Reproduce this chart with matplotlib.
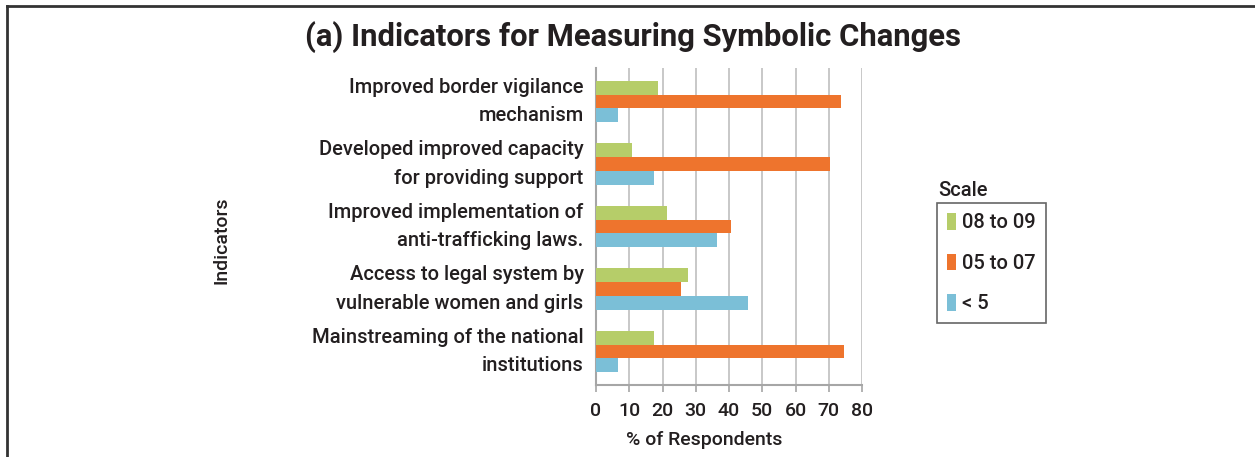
import matplotlib
matplotlib.use("Agg")
import matplotlib.pyplot as plt
from matplotlib.lines import Line2D
from matplotlib.patches import Patch
import numpy as np

plt.rcParams['font.family'] = ['Roboto', 'DejaVu Sans']
plt.rcParams['font.weight'] = 500

categories = [
    "Improved border vigilance\nmechanism",
    "Developed improved capacity\nfor providing support",
    "Improved implementation of\nanti-trafficking laws.",
    "Access to legal system by\nvulnerable women and girls",
    "Mainstreaming of the national\ninstitutions",
]
series_names = ["08 to 09", "05 to 07", "< 5"]
vals_08_09 = [18.6, 10.7, 21.4, 27.8, 17.3]
vals_05_07 = [73.7, 70.4, 40.6, 25.6, 74.6]
vals_lt5 = [6.5, 17.3, 36.4, 45.6, 6.5]
colors = ["#B6CD69", "#EE742D", "#7BBFD7"]
xticks = [0, 10, 20, 30, 40, 50, 60, 70, 80]

W, H = 1255, 457
TXT = "#231F20"
fig = plt.figure(figsize=(W / 100, H / 100), dpi=100)
ax = fig.add_axes([596 / W, 1 - 385 / H, (862 - 596) / W, (385 - 68) / H])

y = np.arange(len(categories))
bh = 0.222
for i, (vals, c) in enumerate(zip([vals_08_09, vals_05_07, vals_lt5], colors)):
    ax.barh(y + (i - 1) * bh, vals, height=bh, color=c, zorder=3, label=series_names[i])

ax.set_xlim(0, 80)
ax.set_ylim(4.535, -0.535)
ax.set_xticks(xticks)
ax.set_xticklabels([str(t) for t in xticks], fontsize=14, color=TXT)
ax.set_yticks(y)
ax.set_yticklabels(categories, fontsize=14.5, color=TXT, linespacing=1.62,
                   ha="right", va="center")
ax.tick_params(axis="y", length=0, pad=9)
ax.tick_params(axis="x", length=5, width=1.2, color="#A6A6A6", pad=7)
ax.grid(axis="x", color="#BFBFBF", linewidth=1.2, zorder=0)
for s in ["top", "right"]:
    ax.spines[s].set_visible(False)
ax.spines["left"].set_color("#A6A6A6")
ax.spines["left"].set_linewidth(1.5)
ax.spines["bottom"].set_color("#A6A6A6")
ax.spines["bottom"].set_linewidth(1.5)

fig.text(704 / W, 1 - 440 / H, "% of Respondents", ha="center", va="center",
         fontsize=14, color=TXT)
fig.text(222 / W, 1 - 240 / H, "Indicators", rotation=90, ha="center", va="center",
         fontsize=14, color=TXT)
fig.text(633 / W, 1 - 37 / H, "(a) Indicators for Measuring Symbolic Changes",
         ha="center", va="center", fontsize=22.3, fontweight="bold", color=TXT)

# legend
handles = [Patch(facecolor=c, edgecolor="none") for c in colors]
leg = fig.legend(handles, series_names, loc="upper left",
                 bbox_to_anchor=(937 / W, 1 - 203 / H), fontsize=14.5,
                 frameon=True, fancybox=False, edgecolor="#404040",
                 handlelength=0.45, handleheight=0.9, handletextpad=0.3,
                 labelspacing=1.05, borderpad=0.5, borderaxespad=0)
leg.get_frame().set_linewidth(1.2)
for t in leg.get_texts():
    t.set_color(TXT)
fig.text(938 / W, 1 - 190 / H, "Scale", ha="left", va="center", fontsize=14.5, color=TXT)

# outer frame (top and left edges)
fig.add_artist(Line2D([7 / W, 1.0], [1 - 6 / H, 1 - 6 / H], color="#333333", linewidth=2))
fig.add_artist(Line2D([7 / W, 7 / W], [1 - 6 / H, 0], color="#333333", linewidth=2))

fig.savefig("out.png", dpi=100)
